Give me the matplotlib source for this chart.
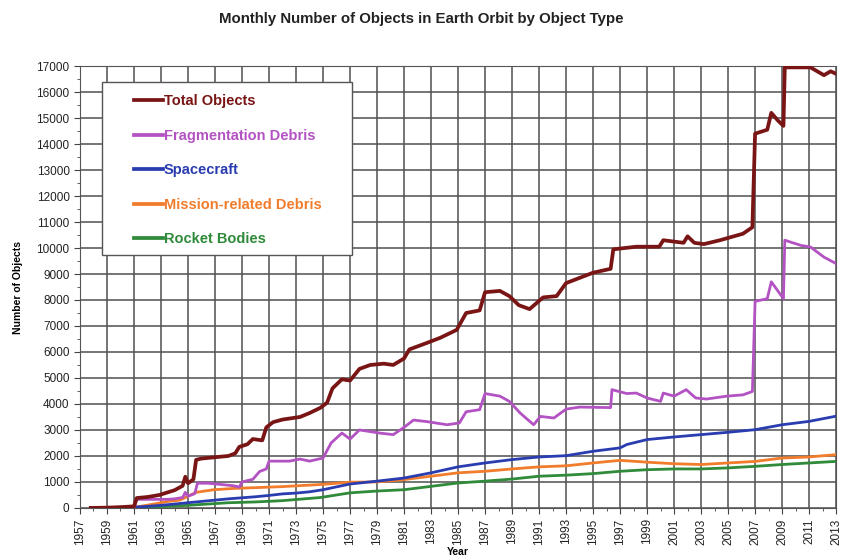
import matplotlib
matplotlib.use("Agg")
import matplotlib.pyplot as plt
import matplotlib.patches as patches
from matplotlib.ticker import MultipleLocator
import numpy as np

plt.rcParams['font.family'] = ['Liberation Sans', 'DejaVu Sans']

# ---- data (year, number of objects) ----
total_years = [1957.8, 1959, 1960, 1961.0, 1961.2, 1962.0, 1962.9, 1963.5, 1964.0, 1964.6, 1964.8,
               1965.0, 1965.4, 1965.6, 1966.0, 1967.0, 1968.0, 1968.5, 1968.8, 1969.4, 1969.8,
               1970.5, 1970.8, 1971.3, 1972.0, 1973.3, 1974.0, 1974.8, 1975.3, 1975.7, 1976.4,
               1977.0, 1977.7, 1978.5, 1979.5, 1980.2, 1981.0, 1981.4, 1982.7, 1983.7, 1984.9,
               1985.6, 1986.6, 1987.0, 1988.1, 1988.8, 1989.5, 1990.3, 1991.3, 1992.3, 1993.0,
               1994.0, 1995.0, 1996.3, 1996.5, 1998.2, 1999.9, 2000.2, 2001.7, 2002.0, 2002.5,
               2003.2, 2004.4, 2006.1, 2006.8, 2007.0, 2007.9, 2008.2, 2008.7, 2009.1, 2009.2,
               2011.1, 2011.6, 2012.1, 2012.6, 2013.0]
total_vals = [0, 10, 30, 60, 380, 420, 500, 600, 680, 850, 1200,
              950, 1100, 1850, 1900, 1950, 2000, 2100, 2350, 2450, 2650,
              2600, 3100, 3300, 3400, 3500, 3650, 3850, 4050, 4600, 4950,
              4900, 5350, 5500, 5550, 5500, 5750, 6100, 6350, 6550, 6850,
              7500, 7600, 8300, 8350, 8150, 7800, 7650, 8100, 8150, 8650,
              8850, 9050, 9200, 9950, 10050, 10050, 10300, 10200, 10450, 10200,
              10150, 10300, 10550, 10800, 14400, 14550, 15200, 14900, 14700, 16950,
              16950, 16800, 16650, 16800, 16700]

frag_years = [1957.8, 1961.0, 1961.2, 1962.5, 1963.5, 1964.0, 1964.6, 1964.8, 1965.0, 1965.5,
              1965.7, 1966.5, 1967.5, 1968.4, 1968.8, 1969.0, 1969.8, 1970.3, 1970.8, 1971.0,
              1972.5, 1973.3, 1974.0, 1975.0, 1975.6, 1976.4, 1977.0, 1977.7, 1979.2, 1980.2,
              1981.0, 1981.7, 1982.7, 1984.2, 1985.1, 1985.6, 1986.6, 1987.0, 1988.1, 1988.8,
              1989.6, 1990.6, 1991.1, 1992.1, 1993.0, 1994.0, 1996.3, 1996.4, 1997.5, 1998.2,
              1999.0, 2000.0, 2000.2, 2001.0, 2001.9, 2002.6, 2003.4, 2004.9, 2006.1, 2006.8,
              2007.0, 2007.9, 2008.2, 2009.1, 2009.2, 2010.4, 2011.1, 2012.1, 2013.0]
frag_vals = [0, 0, 330, 330, 330, 350, 400, 600, 450, 550,
             950, 950, 900, 850, 800, 1000, 1100, 1400, 1500, 1800,
             1800, 1880, 1800, 1920, 2500, 2880, 2650, 3000, 2880, 2820,
             3100, 3380, 3320, 3200, 3270, 3700, 3780, 4400, 4300, 4100,
             3650, 3200, 3520, 3460, 3800, 3880, 3860, 4550, 4400, 4420,
             4230, 4100, 4420, 4300, 4550, 4230, 4190, 4300, 4350, 4480,
             7950, 8050, 8700, 8050, 10300, 10100, 10040, 9650, 9400]

sc_years = [1957.8, 1960, 1961, 1962, 1963, 1964, 1965, 1966, 1967, 1968, 1969, 1970, 1971,
            1972, 1973, 1974, 1975, 1977, 1979, 1981, 1983, 1985, 1987, 1989, 1991, 1993,
            1995, 1997, 1997.5, 1999, 2001, 2003, 2005, 2007, 2009, 2011, 2013]
sc_vals = [0, 15, 30, 60, 100, 150, 200, 250, 300, 350, 390, 430, 480,
           540, 570, 620, 700, 920, 1030, 1150, 1350, 1580, 1730, 1860, 1960, 2010,
           2180, 2310, 2440, 2630, 2730, 2820, 2910, 3010, 3200, 3330, 3530]

mission_years = [1957.8, 1961, 1962.5, 1963.5, 1964.4, 1965.0, 1965.6, 1966.9, 1968.4, 1970,
                 1972, 1974.8, 1977, 1979, 1981, 1983, 1985, 1987, 1989, 1991, 1993, 1995,
                 1997, 1999, 2001, 2003, 2005, 2007, 2009, 2011, 2013]
mission_vals = [0, 20, 150, 250, 300, 450, 600, 700, 750, 780,
                820, 900, 990, 1000, 1090, 1220, 1350, 1410, 1500, 1580, 1620, 1730,
                1830, 1760, 1700, 1670, 1730, 1790, 1920, 1960, 2050]

rb_years = [1957.8, 1961, 1963, 1965, 1966.5, 1968, 1970, 1972, 1974.8, 1977, 1979, 1981,
            1983, 1985, 1987, 1989, 1991, 1993, 1995, 1997, 1999, 2001, 2003, 2005, 2007,
            2009, 2011, 2013]
rb_vals = [0, 15, 50, 100, 150, 200, 230, 280, 400, 580, 650, 700,
           830, 960, 1030, 1110, 1220, 1260, 1320, 1410, 1470, 1500, 1500, 1540, 1600,
           1670, 1730, 1790]

labels = ['Total Objects', 'Fragmentation Debris', 'Spacecraft', 'Mission-related Debris', 'Rocket Bodies']
colors = ['#7a1515', '#b352c2', '#2a3db0', '#f07c2c', '#2f8a3a']

fig = plt.figure(figsize=(8.42, 5.6), dpi=100)
ax = fig.add_axes([0.095, 0.093, 0.898, 0.789])

series = [(total_years, total_vals), (frag_years, frag_vals), (sc_years, sc_vals),
          (mission_years, mission_vals), (rb_years, rb_vals)]
handles = []
for i, (xs, ys) in enumerate(series):
    lw = 2.7 if i == 0 else 2.0
    h, = ax.plot(xs, ys, color=colors[i], lw=lw, label=labels[i], zorder=10 - i,
                 solid_joinstyle='round')
    handles.append(h)

ax.set_xlim(1957, 2013)
ax.set_ylim(0, 17000)
ax.xaxis.set_minor_locator(MultipleLocator(1))
ax.yaxis.set_major_locator(MultipleLocator(1000))
ax.yaxis.set_minor_locator(MultipleLocator(500))
ax.set_xticks(np.arange(1957, 2014, 2))
ax.set_xticklabels([str(y) for y in range(1957, 2014, 2)], rotation=90)
ax.tick_params(axis='both', which='major', labelsize=8.5, length=4, color='#444444', labelcolor='#222222')
ax.tick_params(axis='both', which='minor', length=2, color='#444444')
ax.grid(True, which='major', color='#505050', lw=1.1)
for s in ax.spines.values():
    s.set_color('#555555')

ax.set_xlabel('Year', fontsize=7.5, fontweight='bold', labelpad=2)
ax.set_ylabel('Number of Objects', fontsize=7.5, fontweight='bold', labelpad=10)
fig.suptitle('Monthly Number of Objects in Earth Orbit by Object Type', fontsize=10.8,
             fontweight='bold', y=0.966, va='center', color='#222222')

# legend box
box = patches.Rectangle((0.029, 0.572), 0.331, 0.392, transform=ax.transAxes,
                        facecolor='white', edgecolor='#555555', lw=1.0, zorder=20)
ax.add_patch(box)
leg = ax.legend(handles=handles, loc='upper left', bbox_to_anchor=(0.071, 0.936),
                frameon=False, labelspacing=1.4, handlelength=2.0,
                handletextpad=0.05, borderaxespad=0, borderpad=0, labelcolor='linecolor',
                prop={'weight': 'bold', 'size': 10.5})
for ln in leg.get_lines():
    ln.set_linewidth(2.7)
leg.set_zorder(25)

fig.savefig('out.png', dpi=100)
